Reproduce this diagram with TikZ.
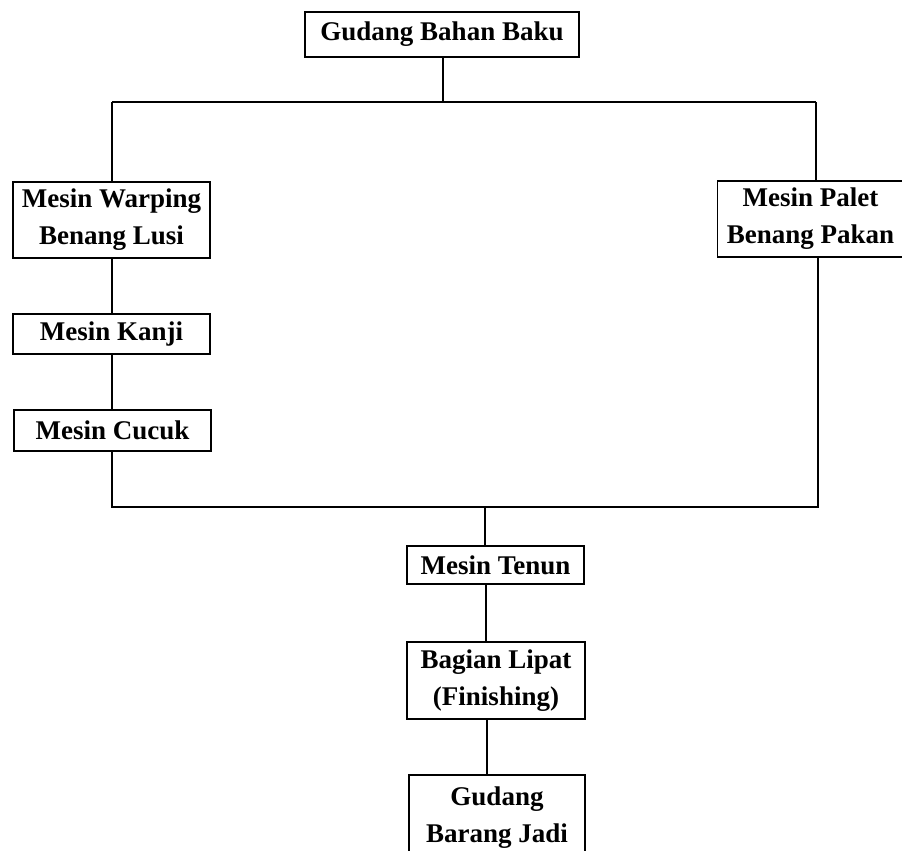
\documentclass[tikz,border=0pt]{standalone}
\usepackage{fontspec}
\setmainfont{Liberation Serif}
\begin{document}
\begin{tikzpicture}[x=1pt,y=-1pt,
  box/.style={draw=black, line width=1.6pt, fill=white, inner sep=0pt, align=center,
    font=\fontsize{27}{37}\selectfont\bfseries},
  conn/.style={draw=black, line width=1.4pt}]
\useasboundingbox (0,0) rectangle (902,851);
% nodes
\node[box, minimum width=274, minimum height=45] (gbb) at (442,34.5) {Gudang Bahan Baku};
\node[box, minimum width=197, minimum height=76] (war) at (111.5,220) {Mesin Warping\\Benang Lusi};
\node[box, minimum width=186, minimum height=76] (pal) at (810.5,219) {Mesin Palet\\Benang Pakan};
\node[box, minimum width=197, minimum height=40] (kan) at (111.5,334) {Mesin Kanji};
\node[box, minimum width=197, minimum height=41] (cuc) at (112.5,430.5) {Mesin Cucuk};
\node[box, minimum width=177, minimum height=38] (ten) at (495.5,565) {Mesin Tenun};
\node[box, minimum width=178, minimum height=77] (lip) at (496,680.5) {Bagian Lipat\\(Finishing)};
\node[box, minimum width=176, minimum height=80, text depth=0pt] (gbj) at (497,815) {Gudang\\Barang Jadi};
% junction coordinates
\coordinate (tj) at (443,102);
\coordinate (lc) at (112,102);
\coordinate (rc) at (816,102);
\coordinate (bl) at (112,507);
\coordinate (br) at (818,507);
\coordinate (bj) at (485,507);
\coordinate (xa) at (486,0);
\coordinate (xb) at (487,0);
% connectors
\draw[conn] (gbb.south -| tj) -- (tj);
\draw[conn] (lc) -- (rc);
\draw[conn] (lc) -- (lc |- war.north);
\draw[conn] (rc) -- (rc |- pal.north);
\draw[conn] (war.south -| lc) -- (kan.north -| lc);
\draw[conn] (kan.south -| lc) -- (cuc.north -| lc);
\draw[conn] (cuc.south -| bl) -- (bl) -- (br) -- (pal.south -| br);
\draw[conn] (bj) -- (ten.north -| bj);
\draw[conn] (ten.south -| xa) -- (lip.north -| xa);
\draw[conn] (lip.south -| xb) -- (gbj.north -| xb);
\end{tikzpicture}
\end{document}
